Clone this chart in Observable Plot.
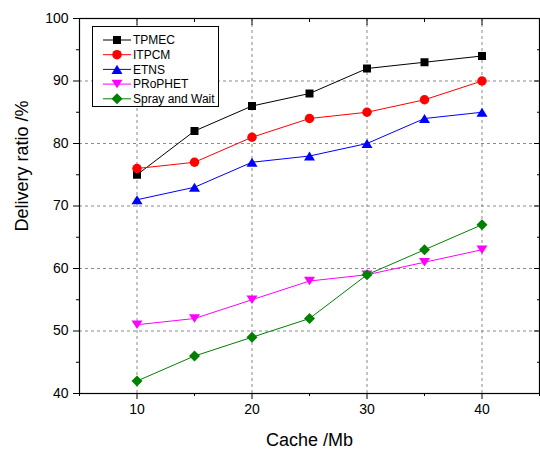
<!DOCTYPE html>
<html><head><meta charset="utf-8">
<script src="https://cdn.jsdelivr.net/npm/d3@7"></script>
<script src="https://cdn.jsdelivr.net/npm/@observablehq/plot@0.6"></script>
<style>
html,body{margin:0;padding:0;background:#fff;}
#wrap{position:relative;width:540px;height:450px;font-family:"Liberation Sans",Arial,sans-serif;}
#legend{position:absolute;left:92px;top:26px;}
</style></head><body><div id="wrap"></div>
<script>
const cache = [10, 15, 20, 25, 30, 35, 40];
const tpmec = [75, 82, 86, 88, 92, 93, 94];
const itpcm = [76, 77, 81, 84, 85, 87, 90];
const etns = [71, 73, 77, 78, 80, 84, 85];
const prophet = [51, 52, 55, 58, 59, 61, 63];
const sprayWait = [42, 46, 49, 52, 59, 63, 67];
const seriesNames = ["TPMEC", "ITPCM", "ETNS", "PRoPHET", "Spray and Wait"];
const seriesValues = [tpmec, itpcm, etns, prophet, sprayWait];
const colors = ["#000000", "#ff0000", "#0000ff", "#ff00ff", "#008000"];
const xTicks = [10, 20, 30, 40];
const xMinor = [5, 15, 25, 35, 45];
const yTicks = [40, 50, 60, 70, 80, 90, 100];
const yMinor = [45, 55, 65, 75, 85, 95];
const yGrid = [50, 60, 70, 80, 90];
const xTitle = "Cache /Mb";
const yTitle = "Delivery ratio /%";

const rad = size => Math.sqrt(size / Math.PI);
const symSquare = {draw(c, size) { const s = 0.8 * rad(size); c.rect(-s, -s, 2 * s, 2 * s); }};
const symCircle = {draw(c, size) { const r = 0.95 * rad(size); c.moveTo(r, 0); c.arc(0, 0, r, 0, 2 * Math.PI); }};
const symTriUp = {draw(c, size) { const r = rad(size), w = 1.1 * r, h = 0.92 * r; c.moveTo(0, -h); c.lineTo(w, h); c.lineTo(-w, h); c.closePath(); }};
const symTriDown = {draw(c, size) { const r = rad(size), w = 1.1 * r, h = 0.85 * r; c.moveTo(0, h); c.lineTo(w, -h); c.lineTo(-w, -h); c.closePath(); }};
const symDiamond = {draw(c, size) { const r = 1.1 * rad(size); c.moveTo(0, -r); c.lineTo(r, 0); c.lineTo(0, r); c.lineTo(-r, 0); c.closePath(); }};
const symbols = [symSquare, symCircle, symTriUp, symTriDown, symDiamond];

const rows = [];
seriesNames.forEach((s, i) => cache.forEach((c, j) => rows.push({series: s, cache: c, value: seriesValues[i][j]})));

const seriesMarks = [];
seriesNames.forEach((s, i) => {
  const d = rows.filter(r => r.series === s);
  seriesMarks.push(Plot.line(d, {x: "cache", y: "value", stroke: colors[i], strokeWidth: 1}));
  seriesMarks.push(Plot.dot(d, {x: "cache", y: "value", symbol: symbols[i], fill: colors[i], stroke: "none", r: 5}));
});

const gridStyle = {stroke: "#8a8a8a", strokeOpacity: 1, strokeDasharray: "3,3", strokeWidth: 1};

const chart = Plot.plot({
  width: 540, height: 450,
  marginLeft: 79, marginRight: 1, marginTop: 18, marginBottom: 57,
  style: {fontFamily: "'Liberation Sans', Arial, sans-serif", fontSize: "14px", color: "black", background: "white"},
  x: {domain: [5, 45], label: null},
  y: {domain: [40, 100], label: null},
  marks: [
    Plot.gridX(xTicks, gridStyle),
    Plot.gridY(yGrid, gridStyle),
    ...seriesMarks,
    Plot.frame({stroke: "black", strokeWidth: 1.2}),
    Plot.axisX(xTicks, {anchor: "bottom", tickSize: 6, tickPadding: 5, label: null, fontSize: 14}),
    Plot.axisX(xMinor, {anchor: "bottom", tickSize: 3, fill: "none", label: null}),
    Plot.axisX(xTicks, {anchor: "top", tickSize: 6, dy: 6, fill: "none", label: null}),
    Plot.axisX(xMinor, {anchor: "top", tickSize: 3, dy: 3, fill: "none", label: null}),
    Plot.axisY(yTicks, {anchor: "left", tickSize: 6, tickPadding: 5, label: null, fontSize: 14}),
    Plot.axisY(yMinor, {anchor: "left", tickSize: 3, fill: "none", label: null}),
    Plot.axisY(yTicks, {anchor: "right", tickSize: 6, dx: -6, fill: "none", label: null}),
    Plot.axisY(yMinor, {anchor: "right", tickSize: 3, dx: -3, fill: "none", label: null}),
    Plot.text([yTitle], {frameAnchor: "left", text: d => d, rotate: -90, textAnchor: "middle", lineAnchor: "middle", dx: -57, dy: -40, fontSize: 18}),
    Plot.text([xTitle], {frameAnchor: "bottom", text: d => d, textAnchor: "middle", lineAnchor: "middle", dy: 47, fontSize: 18})
  ]
});
const wrap = document.getElementById("wrap");
wrap.appendChild(chart);

// Legend
const lw = 126, lh = 80, rowY = [14, 28.7, 43.4, 58.1, 72.8];
const leg = d3.create("svg").attr("id", "legend").attr("width", lw + 1).attr("height", lh + 1)
  .style("position", "absolute").style("left", "92px").style("top", "26px");
leg.append("rect").attr("x", 0.5).attr("y", 0.5).attr("width", lw).attr("height", lh)
  .attr("fill", "white").attr("stroke", "black").attr("stroke-width", 1);
seriesNames.forEach((s, i) => {
  const g = leg.append("g").attr("transform", `translate(0,${rowY[i]})`);
  g.append("line").attr("x1", 11).attr("x2", 39).attr("y1", 0).attr("y2", 0).attr("stroke", colors[i]).attr("stroke-width", 1);
  g.append("path").attr("transform", "translate(25,0)").attr("d", d3.symbol(symbols[i], Math.PI * 25)()).attr("fill", colors[i]);
  g.append("text").attr("x", 41).attr("y", 0).attr("dy", "0.35em").attr("font-size", 12)
    .attr("font-family", "'Liberation Sans', Arial, sans-serif").text(s);
});
wrap.appendChild(leg.node());
</script>
</body></html>
